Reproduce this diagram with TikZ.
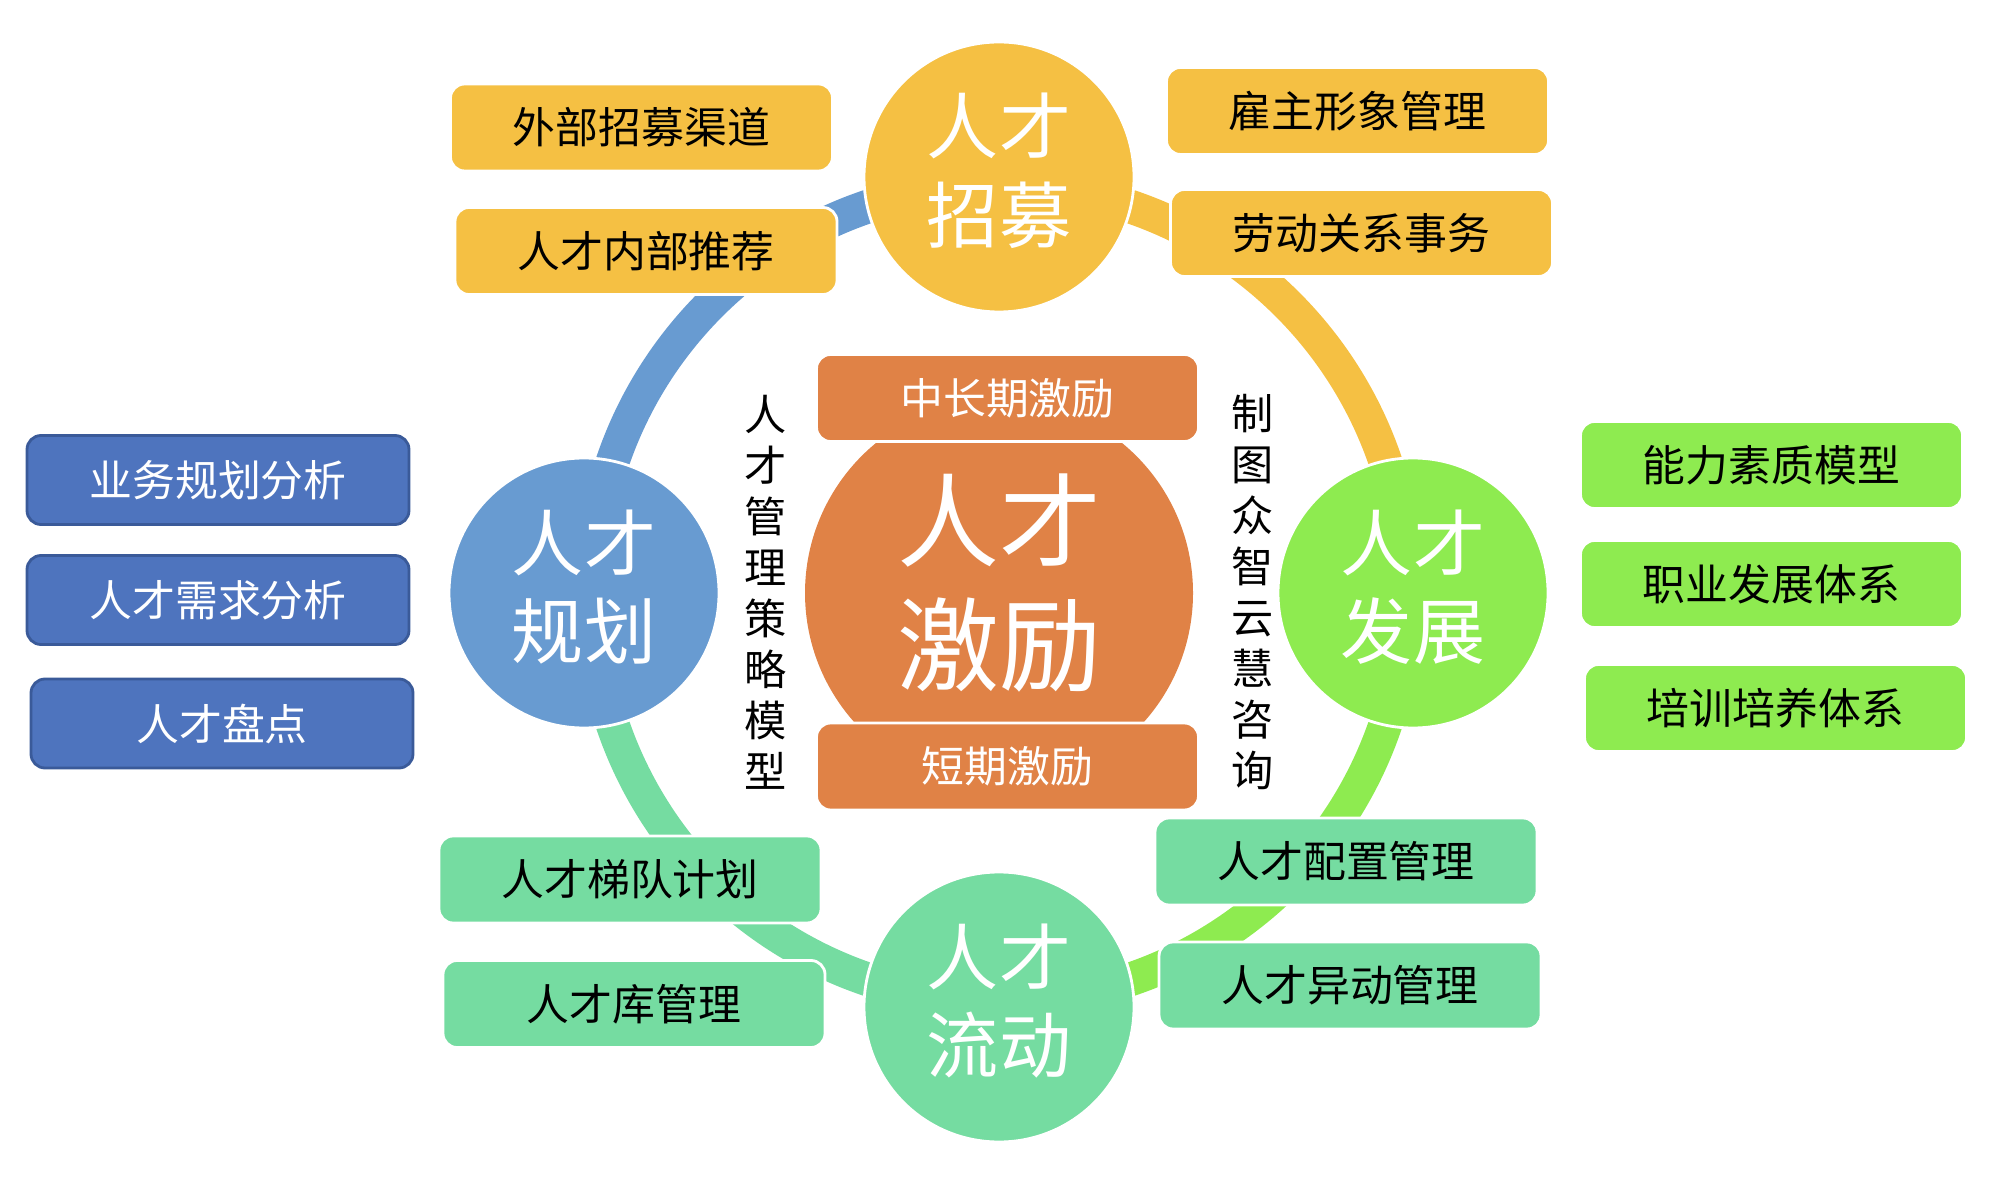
\documentclass[tikz,border=0pt]{standalone}
\usepackage{fontspec}
\setmainfont{Noto Sans CJK SC}
\begin{document}
\begin{tikzpicture}[ring/.style={line width=9.6pt}, hub/.style={circle, minimum size=2.7cm, inner sep=0pt, draw=white, line width=0.8pt}, hubtext/.style={text=white, align=center, inner sep=0pt, yshift=0.6mm, font=\fontsize{20.5}{25.2}\selectfont}, core/.style={circle, minimum size=3.88cm, inner sep=0pt, fill=tmOrange}, coretext/.style={text=white, align=center, inner sep=0pt, yshift=1mm, font=\fontsize{29}{35.2}\selectfont}, tag/.style={rounded corners=1.4mm, minimum width=3.82cm, minimum height=0.87cm, inner sep=0pt, draw=white, line width=0.8pt, font=\fontsize{12.2}{14}\selectfont}, bluetag/.style={tag, minimum height=0.89cm, fill=tmNavy, draw=tmNavyLine, text=white}, column/.style={align=center, inner sep=0pt, font=\fontsize{12}{14.5}\selectfont}]
\definecolor{tmGold}{HTML}{F5C043}
\definecolor{tmOrange}{HTML}{E08246}
\definecolor{tmSky}{HTML}{689BD1}
\definecolor{tmNavy}{HTML}{4E74BE}
\definecolor{tmNavyLine}{HTML}{3A5A99}
\definecolor{tmMint}{HTML}{75DCA1}
\definecolor{tmLime}{HTML}{8EEB50}
\useasboundingbox (0,0) rectangle (20.16,11.92);
% ring
\coordinate (mid) at (9.99,5.99);
\draw[ring, tmSky] (mid) ++(90:4.08) arc[start angle=90, end angle=180, radius=4.08];
\draw[ring, tmMint] (mid) ++(180:4.08) arc[start angle=180, end angle=270, radius=4.08];
\draw[ring, tmLime] (mid) ++(270:4.08) arc[start angle=270, end angle=360, radius=4.08];
\draw[ring, tmGold] (mid) ++(0:4.08) arc[start angle=0, end angle=90, radius=4.08];
% centre
\node[core, label={[coretext]center:人才\\激励}] (incent) at (mid) {};
\node[tag, fill=tmOrange, text=white] (incLong) at (10.075,7.94) {中长期激励};
\node[tag, fill=tmOrange, text=white] (incShort) at (10.075,4.255) {短期激励};
\node[column] (model) at (7.66,6.0) {人\\才\\管\\理\\策\\略\\模\\型};
\node[column] (brand) at (12.53,6.0) {制\\图\\众\\智\\云\\慧\\咨\\询};
% four stages
\node[hub, fill=tmGold, label={[hubtext]center:人才\\招募}] (recruit) at (9.99,10.15) {};
\node[hub, fill=tmSky, label={[hubtext]center:人才\\规划}] (plan) at (5.84,5.99) {};
\node[hub, fill=tmLime, label={[hubtext]center:人才\\发展}] (develop) at (14.13,5.99) {};
\node[hub, fill=tmMint, label={[hubtext]center:人才\\流动}] (flow) at (9.99,1.85) {};
% recruiting
\node[tag, fill=tmGold] (recA) at (6.415,10.645) {外部招募渠道};
\node[tag, fill=tmGold] (recB) at (6.46,9.41) {人才内部推荐};
\node[tag, fill=tmGold] (recC) at (13.575,10.81) {雇主形象管理};
\node[tag, fill=tmGold] (recD) at (13.615,9.59) {劳动关系事务};
% planning
\node[bluetag] (planA) at (2.18,7.12) {业务规划分析};
\node[bluetag] (planB) at (2.18,5.92) {人才需求分析};
\node[bluetag] (planC) at (2.22,4.685) {人才盘点};
% development
\node[tag, fill=tmLime] (devA) at (17.715,7.27) {能力素质模型};
\node[tag, fill=tmLime] (devB) at (17.715,6.08) {职业发展体系};
\node[tag, fill=tmLime] (devC) at (17.755,4.84) {培训培养体系};
% flow
\node[tag, fill=tmMint] (flowA) at (6.30,3.125) {人才梯队计划};
\node[tag, fill=tmMint] (flowB) at (6.34,1.88) {人才库管理};
\node[tag, fill=tmMint] (flowC) at (13.46,3.305) {人才配置管理};
\node[tag, fill=tmMint] (flowD) at (13.50,2.065) {人才异动管理};
\end{tikzpicture}
\end{document}
